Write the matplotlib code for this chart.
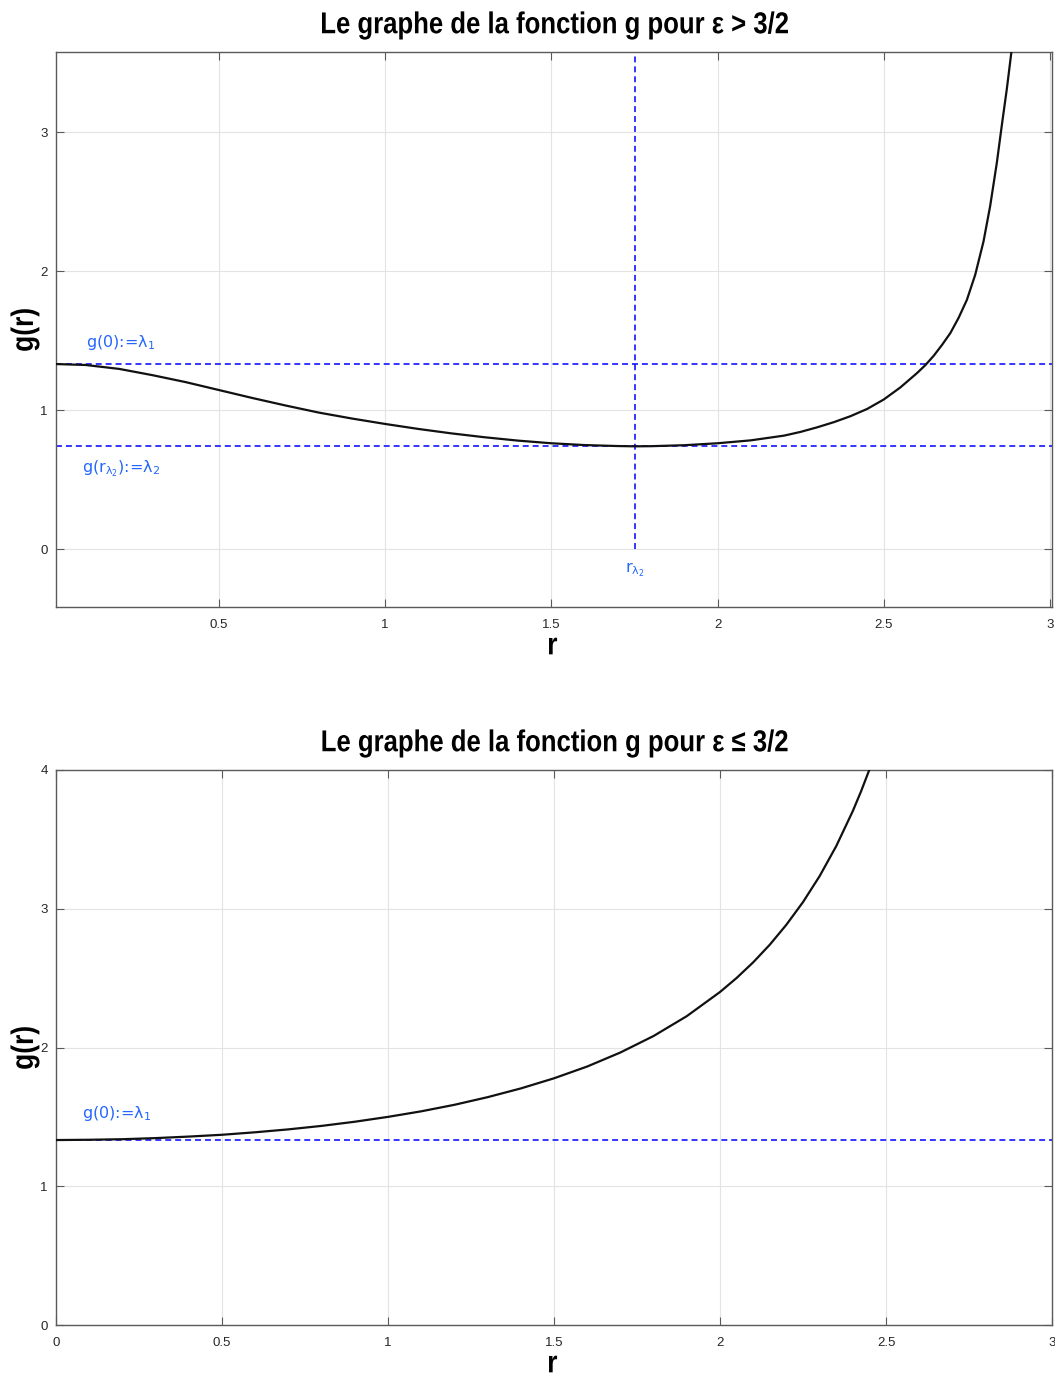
import matplotlib
matplotlib.use("Agg")
import matplotlib.pyplot as plt
from matplotlib.textpath import TextPath
from matplotlib.patches import PathPatch
from matplotlib.font_manager import FontProperties
from matplotlib.transforms import Affine2D

# values of g read for the case eps > 3/2
r_top = [0.01, 0.1, 0.2, 0.3, 0.4, 0.5, 0.6, 0.7, 0.8, 0.9, 1.0, 1.1, 1.2, 1.3,
         1.4, 1.5, 1.6, 1.7, 1.753, 1.8, 1.9, 2.0, 2.1, 2.2, 2.25, 2.3, 2.35,
         2.4, 2.45, 2.5, 2.55, 2.6, 2.625, 2.65, 2.675, 2.7, 2.725, 2.75, 2.775,
         2.8, 2.82, 2.84, 2.855, 2.87, 2.885, 2.89]
g_top = [1.333, 1.326, 1.298, 1.253, 1.203, 1.146, 1.089, 1.035, 0.984, 0.941,
         0.902, 0.866, 0.834, 0.806, 0.782, 0.763, 0.750, 0.743, 0.741, 0.742,
         0.749, 0.763, 0.784, 0.818, 0.845, 0.878, 0.915, 0.958, 1.010, 1.078,
         1.165, 1.268, 1.325, 1.392, 1.470, 1.555, 1.665, 1.795, 1.975, 2.215,
         2.470, 2.780, 3.050, 3.310, 3.600, 3.700]
lambda1 = 1.333
lambda2 = 0.741
r_lambda2 = 1.753

# values of g read for the case eps <= 3/2
r_bot = [0.0, 0.1, 0.2, 0.3, 0.4, 0.5, 0.6, 0.7, 0.8, 0.9, 1.0, 1.1, 1.2, 1.3,
         1.4, 1.5, 1.6, 1.7, 1.8, 1.9, 2.0, 2.05, 2.1, 2.15, 2.2, 2.25, 2.3,
         2.35, 2.4, 2.425, 2.45, 2.5]
g_bot = [1.333, 1.335, 1.339, 1.347, 1.358, 1.371, 1.389, 1.410, 1.435, 1.465,
         1.500, 1.540, 1.587, 1.642, 1.705, 1.778, 1.863, 1.964, 2.083, 2.226,
         2.400, 2.501, 2.614, 2.741, 2.885, 3.048, 3.235, 3.451, 3.704, 3.847,
         4.003, 4.364]

titles = ['Le graphe de la fonction g pour ε > 3/2',
          'Le graphe de la fonction g pour ε ≤ 3/2']

W, H = 1055, 1375
blue_txt = '#2466ff'
dash = (0, (3.9, 2.6))
bold_fp = FontProperties(family='Liberation Sans', weight='bold')

fig = plt.figure(figsize=(W / 100, H / 100), dpi=100)
ax1 = fig.add_axes([56 / W, 1 - 607 / H, 996 / W, 555 / H])
ax2 = fig.add_axes([56 / W, 1 - 1325 / H, 996 / W, 555 / H])


def narrow_text(s, cx, cy, size, sx, angle=0):
    # bold text squeezed horizontally, centred on pixel (cx, cy) from the top-left
    tp = TextPath((0, 0), s, size=size, prop=bold_fp)
    tr = Affine2D().scale(sx, 1).rotate_deg(angle)
    bb = tp.transformed(tr).get_extents()
    tr = tr.translate(cx - (bb.x0 + bb.x1) / 2, (H - cy) - (bb.y0 + bb.y1) / 2)
    fig.add_artist(PathPatch(tp, transform=tr, facecolor='black', lw=0))


def style_axes(ax):
    ax.grid(True, color='#e3e3e3', lw=0.8)
    ax.set_axisbelow(True)
    for s in ax.spines.values():
        s.set_color('#5a5a5a')
        s.set_linewidth(1.0)
    ax.tick_params(direction='in', length=6, width=0.8, colors='#5a5a5a',
                   top=True, right=True, labelsize=9.5, labelcolor='#262626')
    ax.tick_params(axis='x', pad=9)
    ax.tick_params(axis='y', pad=6)
    for lab in ax.get_xticklabels() + ax.get_yticklabels():
        lab.set_family('Liberation Sans')


# top plot
ax1.plot(r_top, g_top, color='#111111', lw=1.6, zorder=3)
ax1.axhline(lambda1, color='#0000ff', lw=1.1, ls=dash, zorder=2)
ax1.axhline(lambda2, color='#0000ff', lw=1.1, ls=dash, zorder=2)
ax1.plot([r_lambda2, r_lambda2], [0, 3.6], color='#0000ff', lw=1.1, ls=dash, zorder=2)
ax1.set_xlim(0.01, 3.006)
ax1.set_ylim(-0.415, 3.578)
ax1.set_xticks([0.5, 1, 1.5, 2, 2.5, 3])
ax1.set_xticklabels(['0.5', '1', '1.5', '2', '2.5', '3'])
ax1.set_yticks([0, 1, 2, 3])
style_axes(ax1)
ax1.text(0.10, 1.49, 'g(0):=λ$_1$', color=blue_txt, fontsize=11.5, va='center')
ax1.text(0.087, 0.583, r'g(r$_{\mathrm{\lambda}_2}$):=λ$_2$', color=blue_txt,
         fontsize=11.5, va='center')
ax1.text(1.723, -0.15, r'r$_{\mathrm{\lambda}_2}$', color=blue_txt, fontsize=11.5,
         va='center')

# bottom plot
ax2.plot(r_bot, g_bot, color='#111111', lw=1.6, zorder=3)
ax2.axhline(lambda1, color='#0000ff', lw=1.1, ls=dash, zorder=2)
ax2.set_xlim(0, 3.0)
ax2.set_ylim(0, 4)
ax2.set_xticks([0, 0.5, 1, 1.5, 2, 2.5, 3])
ax2.set_xticklabels(['0', '0.5', '1', '1.5', '2', '2.5', '3'])
ax2.set_yticks([0, 1, 2, 3, 4])
style_axes(ax2)
ax2.text(0.078, 1.525, 'g(0):=λ$_1$', color=blue_txt, fontsize=11.5, va='center')

# titles and axis labels in a narrow bold face
tp = TextPath((0, 0), titles[0], size=30.2, prop=bold_fp)
squeeze = 466 / tp.get_extents().width
for k, off in enumerate([0, 718]):
    narrow_text(titles[k], 555, 25.5 + off, 30.2, squeeze)
    narrow_text('r', 553, 646 + off, 31, squeeze)
    narrow_text('g(r)', 25, 330 + off, 31, squeeze, angle=90)

fig.savefig('out.png', dpi=100)
